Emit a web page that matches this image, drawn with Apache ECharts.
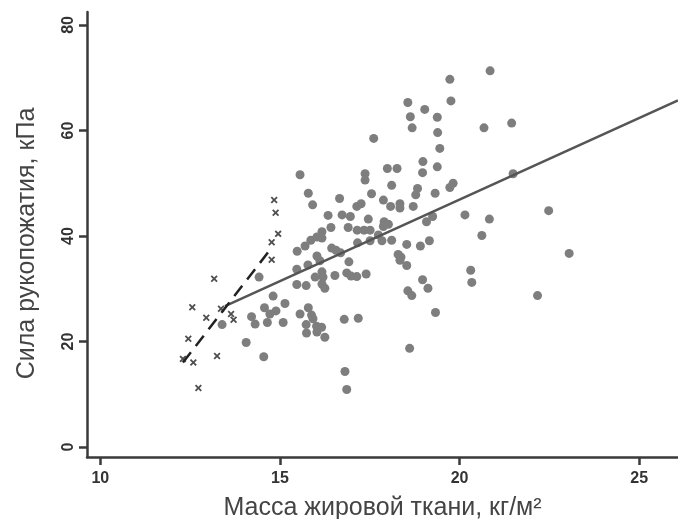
<!DOCTYPE html>
<html>
<head>
<meta charset="utf-8">
<script src="https://cdn.jsdelivr.net/npm/echarts@6/dist/echarts.min.js"></script>
<style>html,body{margin:0;padding:0;background:#fff}#c{width:678px;height:519px}</style>
</head>
<body>
<div id="c"></div>
<script>
// Group 1 (grey circles): fat mass index (kg/m2) and grip strength (kPa)
const circleX = [19.73,20.85,19.76,18.56,19.03,18.63,19.38,18.68,19.39,19.45,20.68,21.45,21.49,22.48,23.05,22.17,20.15,20.83,20.62,20.31,20.34,18.97,19.12,19.33,18.98,18.97,19.38,17.61,17.99,18.26,18.11,18.83,18.78,19.32,19.73,19.82,17.88,18.08,18.34,18.34,18.71,19.08,19.25,17.90,18.02,17.88,17.74,17.84,18.11,18.53,18.91,19.16,18.29,18.37,18.34,18.53,18.56,18.67,18.61,16.81,16.86,15.56,17.37,17.37,17.55,15.79,15.91,16.66,17.14,17.26,16.34,16.73,16.96,17.46,16.42,16.90,17.15,17.34,17.51,17.16,17.51,16.44,16.56,16.69,16.92,15.86,16.03,16.17,16.17,15.70,15.48,15.47,15.78,16.03,16.11,16.17,16.20,16.17,16.25,16.53,15.98,16.86,16.98,17.14,17.40,14.42,14.81,14.57,14.72,14.89,14.21,14.31,14.65,15.09,13.39,14.06,14.55,15.14,15.47,15.73,15.56,15.79,15.88,15.92,15.73,15.74,16.02,16.16,16.03,16.25,16.79,17.18];
const circleY = [69.7,71.3,65.6,65.3,64.0,62.6,62.5,60.5,59.6,56.6,60.5,61.4,51.8,44.8,36.7,28.7,44.0,43.2,40.1,33.5,31.2,31.7,30.1,25.5,54.1,52.0,53.1,58.5,52.8,52.8,49.6,49.0,47.8,48.1,49.2,50.0,46.8,45.6,46.1,45.3,45.6,42.7,43.7,42.7,42.2,41.8,40.2,39.1,39.2,38.4,38.1,39.1,36.5,36.0,35.4,34.4,29.6,28.7,18.7,14.3,10.9,51.6,51.8,50.6,48.0,48.1,45.9,47.1,45.6,46.1,43.9,44.0,43.7,43.2,41.6,41.6,41.1,41.1,41.1,38.7,39.1,37.7,37.3,36.8,35.1,39.2,39.8,40.8,39.6,38.1,37.1,33.7,34.5,36.2,35.3,33.2,32.2,30.9,30.1,32.5,32.2,33.0,32.4,32.3,32.8,32.2,28.6,26.4,25.2,25.8,24.7,23.3,23.6,23.6,23.2,19.8,17.1,27.2,30.8,30.6,25.2,26.4,25.0,24.3,23.2,21.6,22.9,22.7,21.8,20.8,24.2,24.4];
// Group 2 (crosses)
const crossX = [14.84,14.88,14.95,14.77,14.77,13.17,12.56,13.36,12.95,13.64,13.71,12.45,12.30,12.59,13.25,12.73];
const crossY = [46.8,44.4,40.4,38.8,35.5,31.9,26.5,26.2,24.5,25.2,24.1,20.5,16.7,16.0,17.25,11.2];
// Regression lines
const fitCircleX = [13.47, 26.08];
const fitCircleY = [26.7, 65.7];
const fitCrossX = [12.3, 14.75];
const fitCrossY = [16.0, 37.6];
// Axis ticks and titles
const xTicks = [10, 15, 20, 25];
const yTicks = [0, 20, 40, 60, 80];
const xTitle = 'Масса жировой ткани, кг/м²';
const yTitle = 'Сила рукопожатия, кПа';

const zip = (a, b) => a.map((v, i) => [v, b[i]]);
const axisColor = '#3a3a3a';
const font = '"Liberation Sans", Arial, sans-serif';

const chart = echarts.init(document.getElementById('c'), null, {renderer: 'canvas'});
chart.setOption({
  backgroundColor: '#ffffff',
  animation: false,
  grid: {left: 87, right: 0, top: 12, bottom: 62, containLabel: false, outerBoundsMode: 'none'},
  xAxis: {
    type: 'value', min: 9.63, max: 26.08,
    splitLine: {show: false},
    axisLine: {show: true, onZero: false, lineStyle: {color: axisColor, width: 2.5}},
    axisTick: {show: true, length: 8, customValues: xTicks, lineStyle: {color: axisColor, width: 2.5}},
    axisLabel: {customValues: xTicks, margin: 14, color: '#333', fontSize: 16, fontWeight: 'bold', fontFamily: font},
    name: xTitle, nameLocation: 'middle', nameGap: 39,
    nameTextStyle: {fontSize: 25, color: '#444', fontFamily: font}
  },
  yAxis: {
    type: 'value', min: -1.9, max: 82.46,
    splitLine: {show: false},
    axisLine: {show: true, onZero: false, lineStyle: {color: axisColor, width: 2.5}},
    axisTick: {show: true, length: 8, customValues: yTicks, lineStyle: {color: axisColor, width: 2.5}},
    axisLabel: {customValues: yTicks, rotate: 90, align: 'center', verticalAlign: 'bottom', margin: 10, color: '#333', fontSize: 16, fontWeight: 'bold', fontFamily: font},
    name: yTitle, nameLocation: 'middle', nameGap: 47,
    nameTextStyle: {fontSize: 25, color: '#444', fontFamily: font, padding: [0, 18, 0, 0]}
  },
  series: [
    {
      type: 'scatter', name: 'circles', data: zip(circleX, circleY),
      symbol: 'circle', symbolSize: 9,
      itemStyle: {color: '#7e7e7e', opacity: 1}, z: 2
    },
    {
      type: 'scatter', name: 'crosses', data: zip(crossX, crossY),
      symbol: 'path://M0,1.8L1.8,0L5,3.2L8.2,0L10,1.8L6.8,5L10,8.2L8.2,10L5,6.8L1.8,10L0,8.2L3.2,5Z',
      symbolSize: 7,
      itemStyle: {color: '#222'}, z: 3
    },
    {
      type: 'line', name: 'fit1', data: zip(fitCircleX, fitCircleY),
      symbol: 'none', lineStyle: {color: '#555', width: 2.5}, z: 4, silent: true
    },
    {
      type: 'line', name: 'fit2', data: zip(fitCrossX, fitCrossY),
      symbol: 'none', lineStyle: {color: '#222', width: 2.5, type: [13, 8]}, z: 4, silent: true
    }
  ]
});
</script>
</body>
</html>
